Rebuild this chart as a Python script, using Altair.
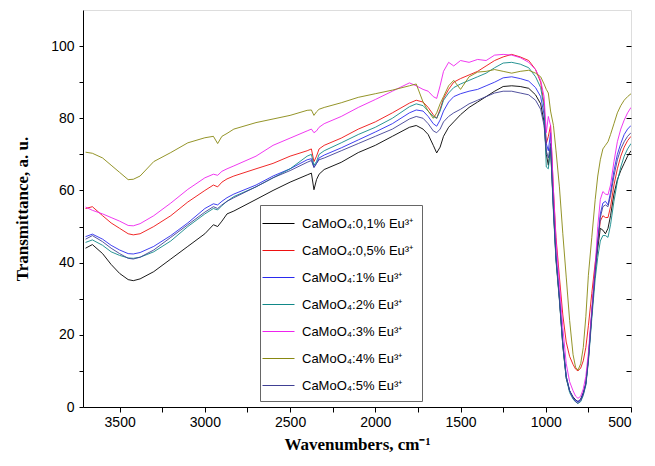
import altair as alt
import pandas as pd

wavenumber = [3700, 3660, 3600, 3550, 3500, 3450, 3420, 3380, 3300, 3200,
              3100, 3000, 2950, 2925, 2900, 2870, 2830, 2700, 2600, 2500,
              2400, 2375, 2360, 2345, 2330, 2300, 2200, 2100, 2000, 1900,
              1800, 1760, 1720, 1690, 1660, 1640, 1620, 1600, 1570, 1540,
              1500, 1450, 1400, 1350, 1300, 1250, 1200, 1150, 1100, 1060,
              1030, 1010, 997, 985, 972, 955, 940, 920, 900, 880,
              860, 840, 825, 811, 795, 780, 765, 750, 730, 710,
              695, 680, 665, 650, 635, 620, 600, 580, 560, 540,
              520, 500]

t_01 = [44.0, 45.0, 42.5, 39.5, 37.0, 35.3, 35.0, 35.5, 37.5, 41.0,
        44.5, 48.0, 50.5, 50.0, 51.5, 53.5, 54.3, 57.5, 60.0, 62.3,
        64.3, 64.8, 60.2, 63.0, 64.5, 65.8, 67.8, 70.5, 72.5, 75.0,
        77.5, 78.0, 77.0, 75.5, 72.5, 70.4, 72.0, 75.0, 77.5, 79.0,
        81.0, 83.0, 84.5, 86.0, 87.5, 88.8, 89.0, 88.8, 88.3, 86.5,
        84.0, 79.0, 70.0, 67.0, 72.0, 55.0, 41.0, 30.0, 17.0, 8.0,
        4.5, 2.8, 2.0, 1.5, 2.2, 4.0, 6.6, 13.5, 26.0, 38.0,
        44.0, 49.5, 49.0, 48.0, 49.5, 53.0, 59.0, 63.0, 65.5, 67.5,
        69.5, 71.0]

t_05 = [55.0, 55.5, 53.0, 51.0, 49.5, 48.0, 47.7, 48.0, 50.0, 53.0,
        56.8, 60.0, 61.5, 61.0, 62.3, 63.2, 64.0, 66.0, 67.5, 69.5,
        71.0, 71.5, 68.0, 69.5, 71.5, 72.5, 74.5, 77.0, 79.0, 81.5,
        84.2, 85.0, 84.5, 83.0, 81.0, 80.0, 82.5, 85.5, 88.0, 90.0,
        91.0, 92.0, 93.0, 94.5, 96.0, 97.0, 97.7, 97.0, 96.0, 93.5,
        90.0, 84.0, 73.0, 75.0, 78.0, 60.0, 47.0, 36.0, 25.5, 18.0,
        14.0, 11.8, 10.5, 10.0, 10.8, 12.8, 16.5, 22.5, 31.5, 40.0,
        45.5, 51.5, 53.0, 52.5, 52.5, 55.5, 61.5, 66.0, 69.5, 72.0,
        73.8, 75.0]

t_1 = [47.2, 47.9, 46.5, 44.8, 43.5, 42.5, 42.4, 42.8, 44.5, 47.5,
       51.0, 55.0, 56.3, 56.0, 57.0, 58.0, 59.0, 61.5, 64.0, 66.0,
       68.5, 68.8, 66.5, 67.5, 69.0, 69.8, 71.8, 74.0, 76.2, 78.5,
       81.5, 82.3, 82.0, 80.5, 78.5, 77.8, 79.5, 82.0, 84.5, 86.0,
       86.8, 87.5, 88.0, 89.0, 90.0, 91.2, 91.5, 91.0, 90.3, 88.5,
       86.0, 81.0, 73.0, 71.0, 76.0, 56.0, 42.0, 30.5, 18.0, 8.5,
       4.5, 2.6, 1.8, 1.5, 2.0, 3.8, 6.5, 13.5, 26.0, 38.0,
       46.0, 53.5, 56.5, 57.0, 56.0, 59.5, 65.5, 70.0, 73.0, 75.5,
       77.0, 78.0]

t_2 = [45.6, 46.3, 44.8, 43.0, 42.0, 41.3, 41.2, 41.5, 43.0, 46.0,
       50.0, 53.5, 55.0, 54.6, 55.8, 57.0, 58.3, 61.0, 63.5, 66.0,
       69.5, 70.0, 67.0, 68.0, 70.0, 71.0, 73.2, 75.5, 77.5, 80.0,
       83.2, 84.0, 83.5, 82.0, 80.5, 80.0, 82.0, 85.0, 87.0, 88.5,
       89.5, 90.5, 91.5, 92.5, 94.0, 95.3, 95.5, 95.0, 94.0, 91.5,
       88.5, 83.0, 66.5, 66.0, 72.0, 54.0, 40.5, 29.5, 17.0, 8.0,
       4.0, 2.2, 1.4, 1.0, 1.5, 3.2, 6.0, 12.5, 24.5, 35.5,
       41.5, 46.0, 47.5, 47.5, 47.0, 50.5, 57.0, 62.5, 66.5, 69.5,
       71.5, 73.0]

t_3 = [55.4, 54.5, 53.5, 52.5, 51.5, 50.3, 50.2, 50.8, 53.0, 56.5,
       60.3, 63.5, 64.5, 64.2, 65.3, 66.0, 66.8, 69.5, 72.5, 74.5,
       76.5, 77.0, 76.0, 76.5, 77.5, 78.5, 80.5, 83.0, 85.2, 87.5,
       89.8, 89.0, 88.0, 87.5, 86.0, 85.5, 89.0, 93.0, 95.5, 94.5,
       96.0, 95.5, 96.3, 96.0, 97.5, 97.7, 97.5, 96.8, 95.5, 93.5,
       90.5, 86.0, 76.0, 80.5, 78.0, 60.0, 46.0, 34.0, 22.0, 12.0,
       7.0, 4.5, 3.0, 2.4, 3.0, 5.0, 8.5, 15.0, 27.0, 39.0,
       50.0, 57.5, 59.7, 59.0, 58.8, 61.5, 68.0, 73.5, 77.0, 79.5,
       81.5, 83.0]

t_4 = [70.6, 70.3, 69.0, 67.0, 65.0, 63.0, 63.1, 64.0, 68.0, 70.5,
       73.2, 74.6, 75.0, 73.0, 75.0, 75.8, 77.0, 78.8, 79.8, 80.8,
       82.2, 82.3, 80.8, 81.8, 82.5, 83.0, 84.3, 85.8, 86.8, 87.8,
       89.0, 89.5, 84.5, 82.0, 80.0, 81.5, 84.0, 86.0, 89.0, 90.5,
       88.0, 91.5, 92.8, 93.0, 93.5, 93.0, 92.5, 93.0, 93.3, 92.5,
       91.5, 89.5, 88.0, 87.0, 82.0, 78.0, 71.0, 61.0, 48.0, 36.0,
       24.0, 14.5, 11.0, 10.2, 12.0, 16.5, 25.0, 36.5, 47.0, 57.5,
       64.0, 68.5, 71.5, 72.5, 73.5, 75.5, 78.5, 81.5, 83.5, 85.0,
       86.0, 86.8]

t_5 = [46.5, 47.5, 45.8, 44.0, 42.5, 41.2, 41.0, 41.5, 43.5, 47.0,
       50.5, 54.0, 55.5, 55.0, 56.0, 57.0, 58.0, 61.0, 63.5, 65.5,
       67.8, 68.3, 66.3, 67.5, 68.5, 69.0, 71.0, 73.0, 75.0, 77.0,
       79.8, 80.5, 80.0, 78.5, 76.5, 76.0, 77.0, 79.0, 80.5, 81.5,
       82.5, 84.0, 85.0, 86.0, 87.0, 87.5, 87.5, 87.0, 86.5, 85.0,
       82.5, 78.0, 71.0, 69.0, 73.0, 55.0, 41.5, 30.0, 17.5, 8.5,
       4.5, 2.5, 1.5, 1.0, 1.8, 3.5, 6.3, 13.0, 25.5, 37.5,
       45.5, 52.5, 55.5, 56.0, 55.5, 58.5, 64.0, 68.5, 71.5, 73.5,
       75.0, 76.0]

labels = ["CaMoO\u2084:0,1% Eu\u00b3\u207a", "CaMoO\u2084:0,5% Eu\u00b3\u207a",
          "CaMoO\u2084:1% Eu\u00b3\u207a", "CaMoO\u2084:2% Eu\u00b3\u207a",
          "CaMoO\u2084:3% Eu\u00b3\u207a", "CaMoO\u2084:4% Eu\u00b3\u207a",
          "CaMoO\u2084:5% Eu\u00b3\u207a"]
series = [t_01, t_05, t_1, t_2, t_3, t_4, t_5]
colors = ["#000000", "#ee1111", "#2a2aee", "#118888", "#ee22ee", "#888811", "#404094"]

x_ticks = list(range(500, 3501, 250))
y_ticks = list(range(0, 110, 10))

rows = []
for lab, vals in zip(labels, series):
    for w, v in zip(wavenumber, vals):
        rows.append({"w": w, "t": v, "s": lab})
df = pd.DataFrame(rows)

x_scale = alt.Scale(domain=[500, 3715], reverse=True, nice=False, zero=False)
y_scale = alt.Scale(domain=[0, 110], nice=False, zero=False)

x_axis = alt.Axis(
    values=x_ticks, format="d",
    labelExpr="datum.value % 500 === 0 ? datum.label : ''",
    tickSize=5,
    labelFont="Liberation Sans", labelFontSize=14, labelColor="#000",
    labelPadding=3, domainColor="#000", tickColor="#000", grid=False,
    title="Wavenumbers, cm\u207b\u00b9", titleFont="Liberation Serif",
    titleFontWeight="bold", titleFontSize=17, titleColor="#000", titlePadding=7,
)
y_axis = alt.Axis(
    orient="left", values=y_ticks,
    labelExpr="datum.value % 20 === 0 ? datum.label : ''",
    tickSize=4,
    labelFont="Liberation Sans", labelFontSize=14, labelColor="#000",
    labelPadding=5, domainColor="#000", tickColor="#000", grid=False,
    title="Transmittance, a. u.", titleFont="Liberation Serif",
    titleFontWeight="bold", titleFontSize=17, titleColor="#000", titlePadding=19,
)

lines = alt.Chart(df).mark_line(strokeWidth=0.9, clip=True).encode(
    x=alt.X("w:Q", scale=x_scale, axis=x_axis),
    y=alt.Y("t:Q", scale=y_scale, axis=y_axis),
    color=alt.Color(
        "s:N", sort=labels,
        scale=alt.Scale(domain=labels, range=colors),
        legend=alt.Legend(
            orient="none", legendX=177, legendY=195, title=None,
            symbolType="M-1.6,0H1.6", symbolSize=400, symbolStrokeWidth=1,
            labelFont="Liberation Sans", labelFontSize=13, labelColor="#000",
            labelOffset=13, padding=8, rowPadding=9,
            strokeColor="#666", fillColor="white",
        ),
    ),
)

right_ticks = alt.Chart(df).mark_rule(opacity=0).encode(
    y=alt.Y("t:Q", scale=alt.Scale(domain=[0, 110], nice=False, zero=False),
            axis=alt.Axis(
                orient="right", offset=-5, domain=False, labels=False, title=None,
                values=y_ticks[1:], tickSize=5, tickColor="#000", grid=False)),
)

chart = alt.layer(lines, right_ticks).resolve_scale(y="independent").properties(
    width=548, height=397, autosize="none",
    padding={"left": 83, "top": 10, "right": 24, "bottom": 59},
).configure_view(stroke="#000", strokeWidth=1).configure(background="white")

chart.save("out.html", embed_options={"renderer": "svg", "actions": False})
